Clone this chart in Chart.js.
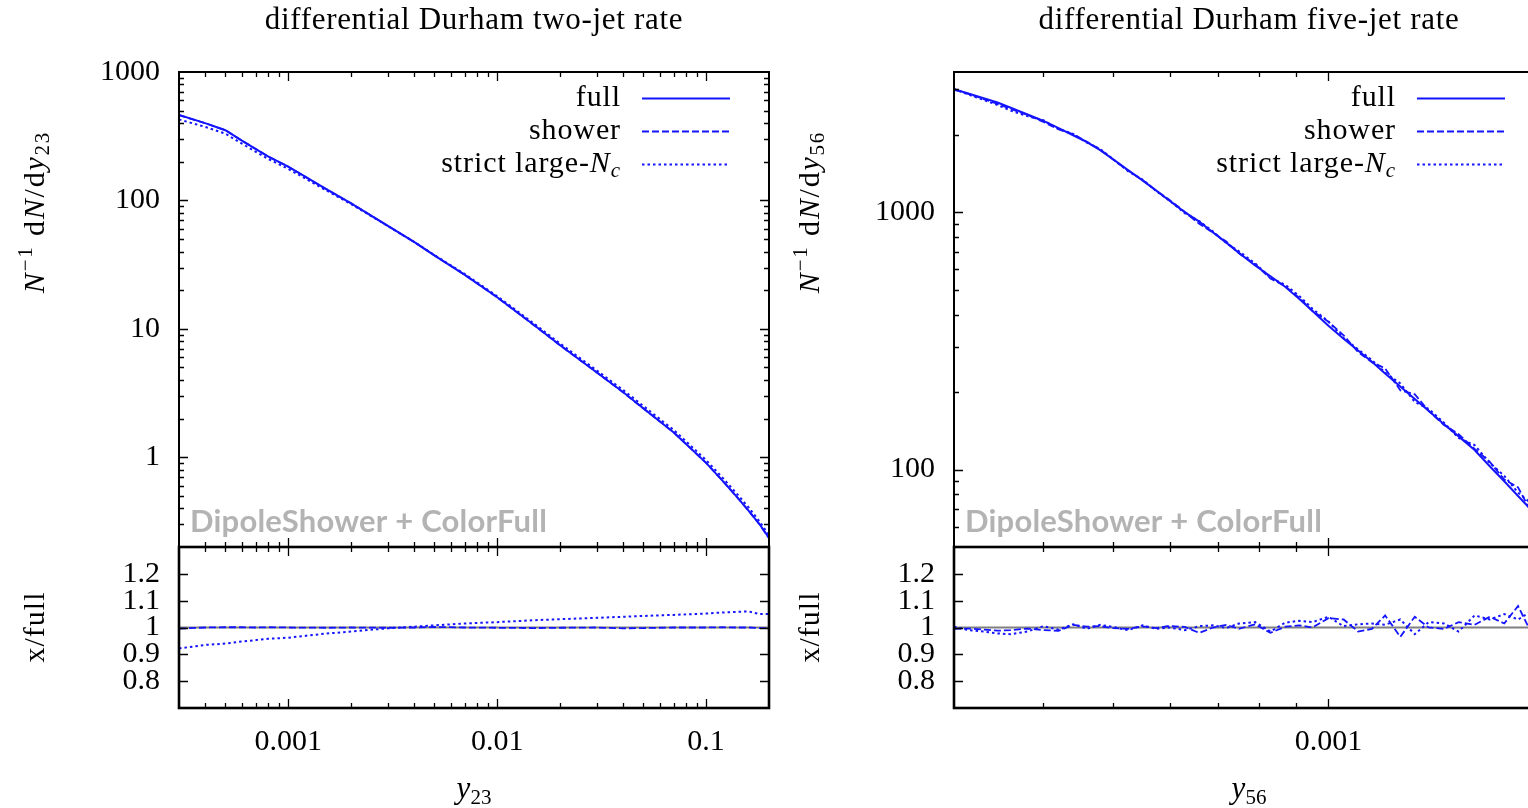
<!DOCTYPE html>
<html lang="en">
<head>
<meta charset="UTF-8">
<title>Differential Durham jet rates</title>
<style>
  body { margin: 0; padding: 0; background: #fff; overflow: hidden; }
  #page { position: relative; width: 1528px; height: 808px; overflow: hidden; background: #fff; }
  canvas { position: absolute; }
</style>
</head>
<body>
<div id="page">
  <canvas id="mainA" width="830" height="587" style="left:0px;top:0px"></canvas>
  <canvas id="ratioA" width="830" height="301" style="left:0px;top:507px"></canvas>
  <canvas id="mainB" width="830" height="587" style="left:775px;top:0px"></canvas>
  <canvas id="ratioB" width="830" height="301" style="left:775px;top:507px"></canvas>
</div>

<script src="https://cdn.jsdelivr.net/npm/chart.js"></script>
<script>
// ---- two-jet rate, y23 ----
const y23 = [3e-4, 4e-4, 5e-4, 6e-4, 7e-4, 8e-4, 1e-3, 1.5e-3, 2e-3, 3e-3, 4e-3, 5e-3, 7e-3,
             0.01, 0.015, 0.02, 0.03, 0.04, 0.05, 0.07, 0.1, 0.12, 0.14, 0.16, 0.18, 0.2];
const twoJetFull = [463, 400, 352, 292, 251, 220, 183, 124, 95, 63.3, 47.5, 37.3, 26.3,
                    17.6, 10.7, 7.45, 4.57, 3.22, 2.41, 1.56, 0.904, 0.654, 0.493, 0.382, 0.302, 0.235];
const twoJetShower = [461, 400, 352.4, 292.3, 251, 220.2, 183, 123.9, 95, 63.2, 47.5, 37.4, 26.3,
                      17.58, 10.68, 7.44, 4.57, 3.21, 2.405, 1.56, 0.904, 0.655, 0.493, 0.382, 0.301, 0.234];
const twoJetLargeNc = [426.9, 374, 330.9, 276.8, 239.2, 210.8, 176, 121.1, 93.6, 63.1, 47.6, 37.6, 26.7,
                       17.95, 10.99, 7.68, 4.73, 3.35, 2.51, 1.63, 0.951, 0.691, 0.522, 0.405, 0.317, 0.247];
const twoJetShowerRatio = [0.996, 1.0, 1.001, 1.001, 1.0, 1.001, 1.0, 0.999, 1.0, 0.999, 1.0, 1.002, 1.0,
                           0.999, 0.998, 0.999, 1.0, 0.997, 0.998, 1.0, 1.0, 1.001, 1.0, 1.0, 0.998, 0.997];
const twoJetLargeNcRatio = [0.922, 0.935, 0.94, 0.948, 0.953, 0.958, 0.962, 0.977, 0.985, 0.997, 1.003, 1.008, 1.015,
                            1.02, 1.027, 1.031, 1.036, 1.04, 1.043, 1.047, 1.052, 1.056, 1.058, 1.06, 1.05, 1.05];

// ---- five-jet rate, y56 ----
const y56 = [3.0e-4, 3.15e-4, 3.3e-4, 3.45e-4, 3.6e-4, 3.8e-4, 4.0e-4, 4.2e-4, 4.4e-4, 4.6e-4, 4.8e-4,
             5.0e-4, 5.25e-4, 5.5e-4, 5.75e-4, 6.0e-4, 6.3e-4, 6.6e-4, 6.9e-4, 7.2e-4, 7.5e-4, 7.9e-4,
             8.3e-4, 8.7e-4, 9.1e-4, 9.5e-4, 1.0e-3, 1.05e-3, 1.1e-3, 1.15e-3, 1.2e-3, 1.26e-3, 1.32e-3,
             1.38e-3, 1.45e-3, 1.52e-3, 1.6e-3, 1.68e-3, 1.76e-3, 1.84e-3, 1.92e-3, 2.0e-3];
const fiveJetFull = [3000, 2883, 2770, 2665, 2541, 2394, 2262, 2120, 1988, 1870, 1740,
                     1605, 1456, 1327, 1211, 1107, 1000, 918, 833, 760, 694, 620,
                     563, 513, 461, 413, 362, 322, 290, 262, 236, 210, 188,
                     169, 150, 134.5, 119, 103, 90, 78.9, 69.6, 61.8];
const fiveJetShower = [2985, 2871, 2748, 2633, 2516, 2384, 2239, 2095, 2008, 1876, 1749,
                       1602, 1449, 1332, 1209, 1114, 1002, 900, 833, 768, 691, 627,
                       552, 515, 465, 413, 375, 332, 286, 261, 247, 203, 196,
                       169, 149, 137.2, 120.2, 107.1, 91.4, 85.2, 68.2, 64.3];
const fiveJetLargeNc = [3009, 2854, 2728, 2606, 2477, 2358, 2273, 2103, 2012, 1861, 1757,
                        1608, 1441, 1338, 1205, 1107, 990, 923, 840, 758, 704, 632,
                        555, 522, 473, 421, 376, 324, 293, 266, 238, 216, 183,
                        172, 152, 132.5, 124.4, 106.1, 94.5, 81.3, 73.8, 64.9];
const fiveJetShowerRatio = [0.995, 0.996, 0.992, 0.988, 0.99, 0.996, 0.99, 0.988, 1.01, 1.003, 1.005,
                            0.998, 0.995, 1.004, 0.998, 1.006, 1.002, 0.98, 1.0, 1.01, 0.995, 1.012,
                            0.98, 1.003, 1.008, 1.0, 1.035, 1.03, 0.985, 0.995, 1.045, 0.965, 1.04,
                            1.0, 0.995, 1.02, 1.01, 1.04, 1.015, 1.08, 0.98, 1.04];
const fiveJetLargeNcRatio = [1.003, 0.99, 0.985, 0.978, 0.975, 0.985, 1.005, 0.992, 1.012, 0.995, 1.01,
                             1.002, 0.99, 1.008, 0.995, 1.0, 0.99, 1.005, 1.008, 0.998, 1.015, 1.02,
                             0.985, 1.018, 1.025, 1.02, 1.04, 1.005, 1.012, 1.015, 1.01, 1.03, 0.975,
                             1.02, 1.015, 0.985, 1.045, 1.03, 1.05, 1.03, 1.06, 1.05];

// axis ranges and labelled ticks
const twoJetXRange = [3e-4, 0.2];
const twoJetYRange = [0.2, 1000];
const fiveJetXRange = [3e-4, 2e-3];
const fiveJetYRange = [50, 3500];
const twoJetXLabels = [0.001, 0.01, 0.1];
const fiveJetXLabels = [0.001];
const twoJetYLabels = [1, 10, 100, 1000];
const fiveJetYLabels = [100, 1000];
const ratioRange = [0.7, 1.3];
const ratioLabels = [0.8, 0.9, 1, 1.1, 1.2];
const refLine = [1, 1];

const BLUE = 'rgb(20,20,255)';
const SERIF = '"Liberation Serif", "DejaVu Serif", serif';
const TICK_FONT = { family: SERIF, size: 30 };

// every 1..9 x 10^n inside the range, split into majors (n) and minors
function logTicks(min, max) {
    const major = [], minor = [];
    for (let e = Math.floor(Math.log10(min)); e <= Math.ceil(Math.log10(max)); e++) {
        for (let m = 1; m <= 9; m++) {
            const v = +(m * Math.pow(10, e)).toPrecision(3);
            if (v <= min * 1.001 || v >= max * 0.999) continue;
            (m === 1 ? major : minor).push(v);
        }
    }
    return { major, minor };
}

function series(xs, ys) {
    return xs.map((x, i) => ({ x: x, y: ys[i] }));
}

function lineSet(label, xs, ys, dash, width, color) {
    return {
        label: label,
        data: series(xs, ys),
        borderColor: color || BLUE,
        borderWidth: width,
        borderDash: dash,
        pointRadius: 0,
        fill: false,
        tension: 0
    };
}

// text made of several runs (italic, super/subscripts); cx,cy = centre, baseline
function measureRuns(ctx, runs, spacing) {
    let w = 0;
    ctx.save();
    ctx.letterSpacing = (spacing || 0) + 'px';
    runs.forEach(r => { ctx.font = r.font; r.w = ctx.measureText(r.t).width; w += r.w; });
    ctx.restore();
    return w;
}

function drawRuns(ctx, runs, cx, cy, rotate, spacing) {
    const w = measureRuns(ctx, runs, spacing);
    ctx.save();
    ctx.translate(cx, cy);
    if (rotate) ctx.rotate(-Math.PI / 2);
    ctx.letterSpacing = (spacing || 0) + 'px';
    let x = -w / 2;
    ctx.fillStyle = '#000';
    ctx.textBaseline = 'alphabetic';
    ctx.textAlign = 'left';
    runs.forEach(r => { ctx.font = r.font; ctx.fillText(r.t, x, r.dy || 0); x += r.w; });
    ctx.restore();
    return w;
}

const roman = '30px ' + SERIF;
const italic = 'italic 30px ' + SERIF;
const small = '21px ' + SERIF;
const smallItalic = 'italic 21px ' + SERIF;

// gnuplot-style frame with inward ticks on all four sides
const frameTicks = {
    id: 'frameTicks',
    afterDatasetsDraw(chart, args, opts) {
        const { ctx, chartArea: a, scales } = chart;
        const x = scales.x, y = scales.y;
        ctx.save();
        ctx.strokeStyle = '#000';
        ctx.lineWidth = 1.3;
        ctx.beginPath();
        const xt = (list, len) => list.forEach(v => {
            const p = Math.round(x.getPixelForValue(v)) + 0.5;
            ctx.moveTo(p, a.bottom); ctx.lineTo(p, a.bottom - len);
            ctx.moveTo(p, a.top); ctx.lineTo(p, a.top + len);
        });
        const yt = (list, len) => list.forEach(v => {
            const p = Math.round(y.getPixelForValue(v)) + 0.5;
            ctx.moveTo(a.left, p); ctx.lineTo(a.left + len, p);
            ctx.moveTo(a.right, p); ctx.lineTo(a.right - len, p);
        });
        xt(opts.xMajor, 9); xt(opts.xMinor, 5);
        yt(opts.yMajor, 9); yt(opts.yMinor, 5);
        ctx.stroke();
        ctx.lineWidth = opts.frame || 2;
        ctx.strokeRect(a.left, a.top, a.right - a.left, a.bottom - a.top);
        ctx.restore();
    }
};

function mainDeco(title, sub) {
    return {
        id: 'mainDeco',
        afterDraw(chart) {
            const { ctx, chartArea: a } = chart;
            const cx = (a.left + a.right) / 2;
            drawRuns(ctx, [{ t: title, font: '31px ' + SERIF }], cx, 29, false, 0.7);
            drawRuns(ctx, [
                { t: 'N', font: italic },
                { t: '\u22121', font: small, dy: -12 },
                { t: ' d', font: roman },
                { t: 'N', font: italic },
                { t: '/d', font: roman },
                { t: 'y', font: italic },
                { t: sub, font: small, dy: 5 }
            ], 44, 212, true, 1.8);

            // legend, gnuplot layout: text right-aligned, sample on the right
            const rows = [
                [{ t: 'full', font: roman }],
                [{ t: 'shower', font: roman }],
                [{ t: 'strict large-', font: roman }, { t: 'N', font: italic }, { t: 'c', font: smallItalic, dy: 5 }]
            ];
            rows.forEach((runs, i) => {
                const ly = 98 + 33 * i;
                const w = measureRuns(ctx, runs, 0.9);
                drawRuns(ctx, runs, a.right - 148 - w / 2, ly + 8, false, 0.9);
                const ds = chart.data.datasets[i];
                ctx.save();
                ctx.strokeStyle = ds.borderColor;
                ctx.lineWidth = ds.borderWidth;
                ctx.setLineDash(ds.borderDash);
                ctx.beginPath();
                ctx.moveTo(a.right - 127, ly + 0.5);
                ctx.lineTo(a.right - 39, ly + 0.5);
                ctx.stroke();
                ctx.restore();
            });

            ctx.save();
            ctx.font = 'bold 31px Lato, "Open Sans", sans-serif';
            ctx.letterSpacing = '0.2px';
            ctx.fillStyle = '#b3b3b3';
            ctx.textBaseline = 'alphabetic';
            ctx.fillText('DipoleShower + ColorFull', a.left + 11, 532);
            ctx.restore();
        }
    };
}

function ratioDeco(sub) {
    return {
        id: 'ratioDeco',
        afterDraw(chart) {
            const { ctx, chartArea: a } = chart;
            drawRuns(ctx, [{ t: 'x/full', font: roman }], 44, 627 - 507, true, 1);
            drawRuns(ctx, [{ t: 'y', font: 'italic 31px ' + SERIF }, { t: sub, font: small, dy: 6 }],
                (a.left + a.right) / 2, 798 - 507, false);
        }
    };
}

function fixedTicks(values) {
    return scale => { scale.ticks = values.map(v => ({ value: v })); };
}

function tickLabels(values, width) {
    return {
        afterFit: s => { s.width = width; },
        afterBuildTicks: fixedTicks(values),
        ticks: { callback: v => String(v), font: TICK_FONT, color: '#000', padding: 19 },
        grid: { display: false, drawTicks: false },
        border: { display: false }
    };
}

function drawMain(id, xs, full, shower, largeNc, xRange, yRange, yLabels, title, sub) {
    const xt = logTicks(xRange[0], xRange[1]);
    const yt = logTicks(yRange[0], yRange[1]);
    new Chart(document.getElementById(id), {
        type: 'line',
        data: {
            datasets: [
                lineSet('full', xs, full, [], 2),
                lineSet('shower', xs, shower, [7, 3], 1.8),
                lineSet('strict large-Nc', xs, largeNc, [2.5, 3], 2)
            ]
        },
        options: {
            responsive: false,
            animation: false,
            events: [],
            layout: { padding: { top: 72, right: 61, bottom: 40, left: 0 } },
            scales: {
                x: { type: 'logarithmic', display: false, min: xRange[0], max: xRange[1] },
                y: Object.assign({ type: 'logarithmic', min: yRange[0], max: yRange[1] }, tickLabels(yLabels, 179))
            },
            plugins: {
                legend: { display: false },
                tooltip: { enabled: false },
                frameTicks: { xMajor: xt.major, xMinor: xt.minor, yMajor: yt.major, yMinor: yt.minor }
            }
        },
        plugins: [frameTicks, mainDeco(title, sub)]
    });
}

function drawRatio(id, xs, showerRatio, largeNcRatio, xRange, xLabels, sub) {
    const xt = logTicks(xRange[0], xRange[1]);
    new Chart(document.getElementById(id), {
        type: 'line',
        data: {
            datasets: [
                lineSet('shower', xs, showerRatio, [7, 3], 1.8),
                lineSet('strict large-Nc', xs, largeNcRatio, [2.5, 3], 2),
                lineSet('full', xRange, refLine, [], 2, '#808080')
            ]
        },
        options: {
            responsive: false,
            animation: false,
            events: [],
            layout: { padding: { top: 40, right: 61, bottom: 0, left: 0 } },
            scales: {
                x: {
                    type: 'logarithmic', min: xRange[0], max: xRange[1],
                    afterFit: s => { s.height = 100; },
                    afterBuildTicks: fixedTicks(xLabels),
                    ticks: { callback: v => String(v), font: TICK_FONT, color: '#000', padding: 16,
                             maxRotation: 0, autoSkip: false },
                    grid: { display: false, drawTicks: false },
                    border: { display: false }
                },
                y: Object.assign({ type: 'linear', min: ratioRange[0], max: ratioRange[1] }, tickLabels(ratioLabels, 179))
            },
            plugins: {
                legend: { display: false },
                tooltip: { enabled: false },
                frameTicks: { xMajor: xt.major, xMinor: xt.minor, yMajor: ratioLabels, yMinor: [], frame: 2.6 }
            }
        },
        plugins: [frameTicks, ratioDeco(sub)]
    });
}

drawMain('mainA', y23, twoJetFull, twoJetShower, twoJetLargeNc, twoJetXRange, twoJetYRange, twoJetYLabels,
         'differential Durham two-jet rate', '23');
drawRatio('ratioA', y23, twoJetShowerRatio, twoJetLargeNcRatio, twoJetXRange, twoJetXLabels, '23');
drawMain('mainB', y56, fiveJetFull, fiveJetShower, fiveJetLargeNc, fiveJetXRange, fiveJetYRange, fiveJetYLabels,
         'differential Durham five-jet rate', '56');
drawRatio('ratioB', y56, fiveJetShowerRatio, fiveJetLargeNcRatio, fiveJetXRange, fiveJetXLabels, '56');
</script>
</body>
</html>
